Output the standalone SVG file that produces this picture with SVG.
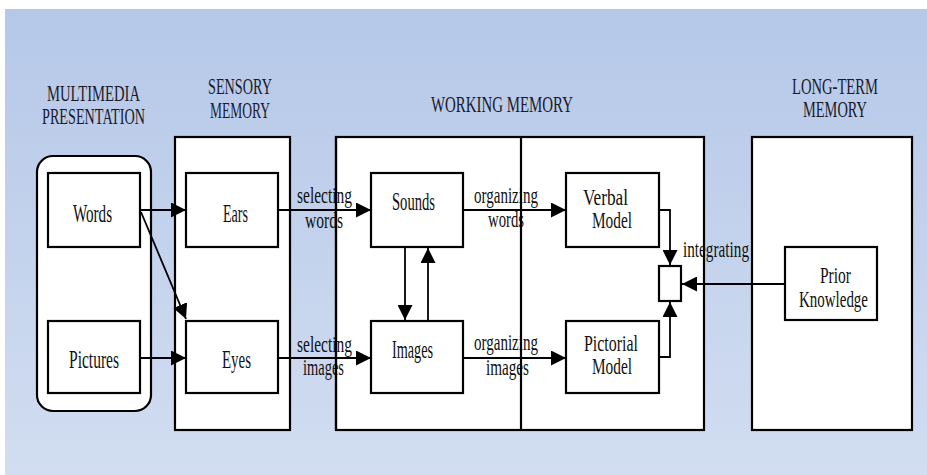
<svg xmlns="http://www.w3.org/2000/svg" width="927" height="475" viewBox="0 0 927 475">
<defs>
<linearGradient id="bg" x1="0" y1="0" x2="0" y2="1">
<stop offset="0" stop-color="#b5c8e8"/>
<stop offset="1" stop-color="#d2ddf1"/>
</linearGradient>
<marker id="ah" viewBox="0 0 10 10" refX="10" refY="5" markerWidth="15" markerHeight="15" markerUnits="userSpaceOnUse" orient="auto">
<path d="M0,0 L10,5 L0,10 Z" fill="#000"/>
</marker>
<style>
.t{font-family:"Liberation Serif","Times New Roman",serif;font-size:25px;fill:#111;}
.s{font-family:"Liberation Serif","Times New Roman",serif;font-size:23px;fill:#111;}
.h{font-family:"Liberation Serif","Times New Roman",serif;font-size:23px;fill:#1a1a2a;}
.box{fill:#fff;stroke:#000;stroke-width:2.2;}
.cont{fill:#fff;stroke:#000;stroke-width:2.2;}
.ln{fill:none;stroke:#000;stroke-width:2.2;}
.arr{fill:none;stroke:#000;stroke-width:1.8;marker-end:url(#ah);}
</style>
</defs>
<rect x="0" y="0" width="927" height="475" fill="#fff"/>
<rect x="5" y="9" width="922" height="466" fill="url(#bg)"/>

<g id="titles">
<text class="h" x="47" y="101" textLength="93" lengthAdjust="spacingAndGlyphs">MULTIMEDIA</text>
<text class="h" x="42" y="124" textLength="103" lengthAdjust="spacingAndGlyphs">PRESENTATION</text>
<text class="h" x="208" y="94" textLength="64" lengthAdjust="spacingAndGlyphs">SENSORY</text>
<text class="h" x="210" y="118" textLength="60" lengthAdjust="spacingAndGlyphs">MEMORY</text>
<text class="h" x="431" y="112" textLength="142" lengthAdjust="spacingAndGlyphs">WORKING MEMORY</text>
<text class="h" x="792" y="94" textLength="86" lengthAdjust="spacingAndGlyphs">LONG-TERM</text>
<text class="h" x="803" y="117" textLength="64" lengthAdjust="spacingAndGlyphs">MEMORY</text>
</g>

<g id="multimedia-presentation">
<rect x="37" y="156" width="114" height="255" rx="16" ry="16" class="cont"/>
</g>
<g id="sensory-memory">
<rect x="175" y="137" width="115" height="293" class="cont"/>
</g>
<g id="working-memory">
<rect x="336" y="137" width="368" height="293" class="cont"/>
</g>
<g id="long-term-memory">
<rect x="752" y="137" width="160" height="293" class="cont"/>
</g>

<g id="words">
<rect x="48" y="173" width="92" height="74" class="box"/>
<text class="t" x="73" y="222" textLength="39" lengthAdjust="spacingAndGlyphs">Words</text>
</g>
<g id="pictures">
<rect x="48" y="321" width="92" height="72" class="box"/>
<text class="t" x="69" y="368" textLength="50" lengthAdjust="spacingAndGlyphs">Pictures</text>
</g>
<g id="ears">
<rect x="186" y="173" width="92" height="74" class="box"/>
<text class="t" x="223" y="222" textLength="25" lengthAdjust="spacingAndGlyphs">Ears</text>
</g>
<g id="eyes">
<rect x="186" y="321" width="92" height="72" class="box"/>
<text class="t" x="222" y="368" textLength="29" lengthAdjust="spacingAndGlyphs">Eyes</text>
</g>
<g id="sounds">
<rect x="371" y="173" width="92" height="74" class="box"/>
<text class="t" x="392" y="210" textLength="43" lengthAdjust="spacingAndGlyphs">Sounds</text>
</g>
<g id="images">
<rect x="371" y="321" width="92" height="72" class="box"/>
<text class="t" x="392" y="358" textLength="41" lengthAdjust="spacingAndGlyphs">Images</text>
</g>
<g id="verbal-model">
<rect x="566" y="173" width="93" height="74" class="box"/>
<text class="s" x="583" y="205" textLength="45" lengthAdjust="spacingAndGlyphs">Verbal</text>
<text class="s" x="592" y="228" textLength="40" lengthAdjust="spacingAndGlyphs">Model</text>
</g>
<g id="pictorial-model">
<rect x="566" y="321" width="93" height="72" class="box"/>
<text class="s" x="584" y="351" textLength="54" lengthAdjust="spacingAndGlyphs">Pictorial</text>
<text class="s" x="592" y="374" textLength="40" lengthAdjust="spacingAndGlyphs">Model</text>
</g>
<g id="integration">
<rect x="659" y="266" width="22" height="35" class="box" stroke-width="1.6"/>
</g>
<g id="prior-knowledge">
<rect x="785" y="247" width="92" height="73" class="box"/>
<text class="s" x="820" y="283" textLength="31" lengthAdjust="spacingAndGlyphs">Prior</text>
<text class="s" x="799" y="307" textLength="69" lengthAdjust="spacingAndGlyphs">Knowledge</text>
</g>

<g id="connectors">
<line class="arr" x1="140" y1="210" x2="186" y2="210"/>
<line class="arr" x1="141" y1="212" x2="186" y2="319"/>
<line class="arr" x1="140" y1="358" x2="186" y2="358"/>
<line class="arr" x1="278" y1="210" x2="371" y2="210"/>
<line class="arr" x1="278" y1="358" x2="371" y2="358"/>
<line class="arr" x1="405" y1="247" x2="405" y2="320"/>
<line class="arr" x1="428" y1="321" x2="428" y2="248"/>
<line class="arr" x1="463" y1="210" x2="566" y2="210"/>
<line class="arr" x1="463" y1="358" x2="566" y2="358"/>
<path class="arr" d="M659,210 H670 V265"/>
<path class="arr" d="M659,357 H670 V302"/>
<line class="arr" x1="785" y1="284" x2="682" y2="284"/>
<text class="s" x="297" y="203" textLength="55" lengthAdjust="spacingAndGlyphs">selecting</text>
<text class="s" x="305" y="228" textLength="38" lengthAdjust="spacingAndGlyphs">words</text>
<text class="s" x="297" y="352" textLength="55" lengthAdjust="spacingAndGlyphs">selecting</text>
<text class="s" x="303" y="375" textLength="41" lengthAdjust="spacingAndGlyphs">images</text>
<text class="s" x="474" y="203" textLength="64" lengthAdjust="spacingAndGlyphs">organizing</text>
<text class="s" x="488" y="227" textLength="36" lengthAdjust="spacingAndGlyphs">words</text>
<text class="s" x="474" y="350" textLength="64" lengthAdjust="spacingAndGlyphs">organizing</text>
<text class="s" x="486" y="375" textLength="43" lengthAdjust="spacingAndGlyphs">images</text>
<text class="s" x="683" y="257" textLength="66" lengthAdjust="spacingAndGlyphs">integrating</text>
</g>

<g id="working-memory-borders">
<line class="ln" x1="336" y1="137" x2="336" y2="430"/>
<line class="ln" x1="521" y1="137" x2="521" y2="430"/>
</g>
</svg>
